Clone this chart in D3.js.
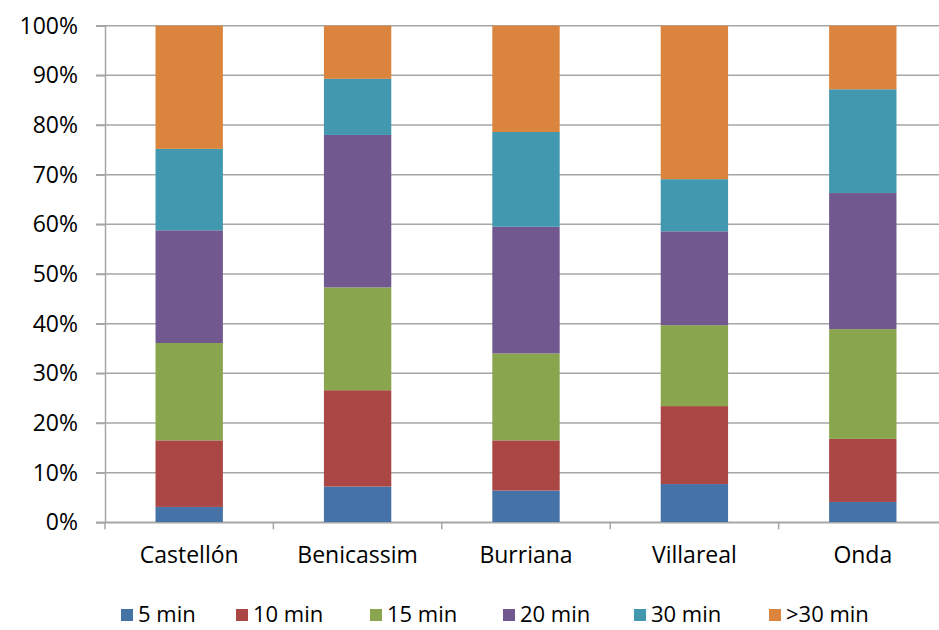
<!DOCTYPE html>
<html><head><meta charset="utf-8">
<script src="https://cdn.jsdelivr.net/npm/d3@7"></script>
<style>body{margin:0;background:#fff}svg{display:block}text{font-family:"Open Sans",sans-serif;fill:#000}</style>
</head><body>
<svg id="c" width="939" height="630"></svg>
<script>
const categories = ["Castellón","Benicassim","Burriana","Villareal","Onda"];
const seriesNames = ["5 min","10 min","15 min","20 min","30 min",">30 min"];
const s5 = [3.1, 7.2, 6.4, 7.7, 4.1];
const s10 = [13.4, 19.4, 10.1, 15.7, 12.7];
const s15 = [19.6, 20.7, 17.5, 16.3, 22.1];
const s20 = [22.7, 30.7, 25.5, 18.9, 27.4];
const s30 = [16.4, 11.3, 19.1, 10.5, 20.9];
const s30p = [24.8, 10.7, 21.4, 30.9, 12.8];
const yTicks = [0,10,20,30,40,50,60,70,80,90,100];
const colors = ["#4572A7","#AA4643","#89A54E","#71588F","#4198AF","#DB843D"];

const seriesVals = [s5,s10,s15,s20,s30,s30p];
const rows = categories.map((c,i)=>{const r={cat:c};seriesNames.forEach((s,j)=>r[s]=seriesVals[j][i]);return r;});
const stacked = d3.stack().keys(seriesNames).offset(d3.stackOffsetExpand)(rows);

const svg = d3.select("#c");
const mLeft=105, mRight=947, mTop=25.7, mBottom=522.3;
const x = d3.scaleBand().domain(categories).range([mLeft,mRight]).paddingInner(0.6).paddingOuter(0.3);
const xb = d3.scaleBand().domain(categories).range([mLeft,mRight]);
const y = d3.scaleLinear().domain([0,1]).range([mBottom,mTop]);

// gridlines
svg.append("g").selectAll("line").data(yTicks).join("line")
  .attr("x1",96).attr("x2",939).attr("y1",d=>y(d/100)).attr("y2",d=>y(d/100))
  .attr("stroke","#A6A6A6").attr("stroke-width",1.5);

// bars
svg.append("g").selectAll("g").data(stacked).join("g").attr("fill",(d,i)=>colors[i])
  .selectAll("rect").data(d=>d).join("rect")
  .attr("x",d=>x(d.data.cat)).attr("width",x.bandwidth())
  .attr("y",d=>y(d[1])).attr("height",d=>y(d[0])-y(d[1]));

// y axis
const ya = svg.append("g").attr("transform",`translate(${mLeft},0)`)
  .call(d3.axisLeft(y).tickValues(yTicks.map(v=>v/100)).tickFormat(d=>Math.round(d*100)+"%").tickSize(9).tickPadding(18));
ya.select(".domain").attr("stroke","#A6A6A6").attr("stroke-width",1.5);
ya.selectAll(".tick line").attr("stroke","#A6A6A6").attr("stroke-width",1.5);
ya.selectAll("text").attr("font-size","23px").attr("fill","#000").style("font-family","'Open Sans',sans-serif");

// x axis
const xa = svg.append("g").attr("transform",`translate(0,${mBottom})`)
  .call(d3.axisBottom(xb).tickSize(0).tickPadding(24));
xa.select(".domain").attr("stroke","#A6A6A6").attr("stroke-width",1.5);
xa.selectAll("text").attr("font-size","23px").attr("fill","#000").style("font-family","'Open Sans',sans-serif");
svg.append("g").selectAll("line").data(categories.slice(1)).join("line")
  .attr("x1",d=>xb(d)).attr("x2",d=>xb(d)).attr("y1",mBottom).attr("y2",mBottom+7)
  .attr("stroke","#A6A6A6").attr("stroke-width",1.5);
svg.append("line").attr("x1",mLeft).attr("x2",mLeft).attr("y1",mBottom).attr("y2",mBottom+7)
  .attr("stroke","#A6A6A6").attr("stroke-width",1.5);

// legend
const legX = [121,236,370,503,634,769];
const leg = svg.append("g").selectAll("g").data(seriesNames).join("g")
  .attr("transform",(d,i)=>`translate(${legX[i]},614)`);
leg.append("rect").attr("x",0).attr("y",-5).attr("width",12).attr("height",12).attr("fill",(d,i)=>colors[i]);
leg.append("text").attr("x",17).attr("y",0).attr("dy","0.35em").attr("font-size","22px").text(d=>d);
</script>
</body></html>
